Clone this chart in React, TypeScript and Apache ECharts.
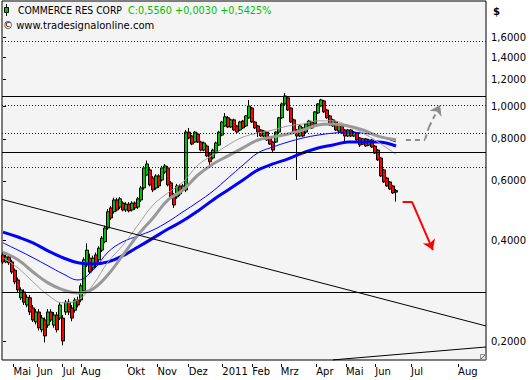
import { useEffect, useRef } from 'react';
import * as echarts from 'echarts';

// Daily bars (bar number on the x axis)
const openP = [
  0.362, 0.345, 0.357, 0.345, 0.326, 0.305, 0.270, 0.281, 0.257, 0.270,
  0.252, 0.229, 0.245, 0.217, 0.232, 0.224, 0.245, 0.224, 0.240, 0.235,
  0.235, 0.245, 0.262, 0.252, 0.248, 0.266, 0.266, 0.283, 0.338, 0.354,
  0.331, 0.362, 0.350, 0.374, 0.396, 0.435, 0.499, 0.486, 0.527, 0.502,
  0.516, 0.492, 0.512, 0.492, 0.516, 0.502, 0.527, 0.572, 0.625, 0.647,
  0.612, 0.572, 0.621, 0.604, 0.638, 0.656, 0.592, 0.545, 0.538, 0.580,
  0.564, 0.564, 0.838, 0.816, 0.783, 0.827, 0.783, 0.741, 0.762, 0.722,
  0.702, 0.727, 0.767, 0.821, 0.874, 0.924, 0.868, 0.911, 0.874, 0.850,
  0.904, 0.874, 0.924, 0.988, 0.898, 0.874, 0.850, 0.816, 0.838, 0.805,
  0.783, 0.783, 0.838, 0.924, 1.016, 1.059, 0.988, 0.911, 0.850, 0.816,
  0.862, 0.838, 0.874, 0.898, 0.886, 0.955, 1.002, 1.037, 0.975, 0.936,
  0.874, 0.898, 0.844, 0.874, 0.850, 0.816, 0.850, 0.816, 0.832, 0.805,
  0.772, 0.800, 0.767, 0.794, 0.762, 0.741, 0.702, 0.647, 0.612, 0.596,
  0.580, 0.562,
];
const closeP = [
  0.345, 0.357, 0.343, 0.322, 0.301, 0.285, 0.285, 0.262, 0.271, 0.245,
  0.232, 0.245, 0.220, 0.235, 0.208, 0.245, 0.232, 0.240, 0.217, 0.257,
  0.201, 0.262, 0.245, 0.235, 0.266, 0.257, 0.293, 0.350, 0.374, 0.322,
  0.354, 0.338, 0.379, 0.406, 0.435, 0.486, 0.466, 0.527, 0.492, 0.531,
  0.492, 0.512, 0.489, 0.516, 0.499, 0.531, 0.572, 0.656, 0.674, 0.584,
  0.564, 0.621, 0.580, 0.656, 0.665, 0.584, 0.538, 0.509, 0.580, 0.549,
  0.580, 0.838, 0.805, 0.772, 0.838, 0.783, 0.741, 0.778, 0.712, 0.684,
  0.741, 0.778, 0.838, 0.898, 0.930, 0.868, 0.911, 0.850, 0.838, 0.898,
  0.862, 0.936, 1.002, 0.898, 0.862, 0.838, 0.816, 0.844, 0.794, 0.772,
  0.741, 0.838, 0.924, 1.016, 1.073, 0.975, 0.898, 0.838, 0.816, 0.874,
  0.816, 0.886, 0.904, 0.862, 0.962, 1.016, 1.044, 0.962, 0.924, 0.880,
  0.911, 0.850, 0.880, 0.832, 0.816, 0.850, 0.816, 0.838, 0.794, 0.767,
  0.800, 0.762, 0.794, 0.757, 0.726, 0.693, 0.621, 0.596, 0.580, 0.568,
  0.553, 0.556,
];
const lowP = [
  0.340, 0.342, 0.338, 0.318, 0.296, 0.280, 0.266, 0.257, 0.253, 0.240,
  0.229, 0.225, 0.216, 0.213, 0.199, 0.220, 0.229, 0.220, 0.213, 0.232,
  0.195, 0.240, 0.240, 0.230, 0.244, 0.253, 0.262, 0.280, 0.333, 0.318,
  0.326, 0.333, 0.345, 0.369, 0.392, 0.430, 0.460, 0.480, 0.487, 0.495,
  0.487, 0.485, 0.484, 0.487, 0.492, 0.496, 0.520, 0.565, 0.620, 0.578,
  0.556, 0.565, 0.572, 0.598, 0.630, 0.578, 0.530, 0.499, 0.531, 0.541,
  0.556, 0.556, 0.798, 0.766, 0.778, 0.778, 0.735, 0.735, 0.706, 0.669,
  0.695, 0.721, 0.762, 0.815, 0.868, 0.862, 0.862, 0.844, 0.832, 0.844,
  0.856, 0.868, 0.918, 0.892, 0.856, 0.810, 0.810, 0.810, 0.788, 0.767,
  0.730, 0.778, 0.832, 0.918, 1.009, 0.968, 0.892, 0.832, 0.604, 0.810,
  0.810, 0.832, 0.868, 0.856, 0.880, 0.948, 0.995, 0.955, 0.918, 0.874,
  0.868, 0.844, 0.838, 0.827, 0.783, 0.810, 0.810, 0.810, 0.788, 0.757,
  0.767, 0.757, 0.762, 0.752, 0.721, 0.688, 0.616, 0.592, 0.576, 0.564,
  0.549, 0.521,
];
const highP = [
  0.368, 0.364, 0.360, 0.350, 0.330, 0.310, 0.290, 0.286, 0.276, 0.275,
  0.257, 0.250, 0.250, 0.240, 0.236, 0.250, 0.250, 0.245, 0.245, 0.262,
  0.240, 0.266, 0.268, 0.257, 0.270, 0.272, 0.298, 0.356, 0.392, 0.365,
  0.360, 0.368, 0.384, 0.412, 0.442, 0.495, 0.505, 0.535, 0.535, 0.538,
  0.522, 0.519, 0.519, 0.522, 0.522, 0.538, 0.580, 0.665, 0.690, 0.655,
  0.620, 0.628, 0.628, 0.665, 0.674, 0.665, 0.600, 0.552, 0.588, 0.588,
  0.588, 0.850, 0.862, 0.822, 0.845, 0.835, 0.790, 0.785, 0.770, 0.730,
  0.748, 0.785, 0.845, 0.905, 0.955, 0.935, 0.918, 0.918, 0.880, 0.905,
  0.911, 0.942, 1.044, 0.995, 0.905, 0.880, 0.856, 0.850, 0.844, 0.810,
  0.790, 0.844, 0.930, 1.025, 1.095, 1.070, 0.995, 0.918, 0.856, 0.880,
  0.868, 0.892, 0.911, 0.905, 0.968, 1.023, 1.052, 1.044, 0.982, 0.942,
  0.918, 0.905, 0.886, 0.880, 0.856, 0.856, 0.856, 0.844, 0.838, 0.810,
  0.805, 0.805, 0.800, 0.800, 0.767, 0.746, 0.707, 0.652, 0.617, 0.600,
  0.584, 0.568,
];

// Moving averages, read every 5 bars
const maIdx = [0, 5, 10, 15, 20, 25, 30, 35, 40, 45, 50, 55, 60, 65, 70, 75, 80, 85, 90, 95, 100, 105, 110, 115, 120, 125, 131];
const maSlowBlue = [0.423, 0.409, 0.393, 0.372, 0.355, 0.343, 0.340, 0.345, 0.360, 0.382, 0.406, 0.432, 0.457, 0.489, 0.527, 0.564, 0.604, 0.647, 0.674, 0.698, 0.727, 0.752, 0.767, 0.783, 0.783, 0.783, 0.762];
const maThinBlue = [0.393, 0.374, 0.355, 0.336, 0.318, 0.305, 0.326, 0.369, 0.396, 0.412, 0.429, 0.454, 0.486, 0.520, 0.560, 0.612, 0.669, 0.727, 0.757, 0.783, 0.805, 0.821, 0.832, 0.838, 0.832, 0.816, 0.783];
const maThickGray = [0.369, 0.350, 0.322, 0.299, 0.285, 0.279, 0.287, 0.316, 0.362, 0.415, 0.466, 0.527, 0.564, 0.625, 0.674, 0.712, 0.752, 0.794, 0.810, 0.827, 0.850, 0.880, 0.886, 0.874, 0.850, 0.815, 0.795];
const maThinGray = [0.355, 0.331, 0.301, 0.275, 0.261, 0.266, 0.295, 0.345, 0.387, 0.444, 0.509, 0.553, 0.596, 0.669, 0.717, 0.767, 0.810, 0.832, 0.850, 0.874, 0.886, 0.905, 0.905, 0.874, 0.832, 0.783, 0.720];

// Axis ticks
const monthTicks = [3.5, 11.4, 19.9, 26.1, 41.5, 51.5, 61.9, 73.1, 83.1, 92.6, 104.4, 114.3, 124.1, 136, 151.7];
const monthLabels = ['Mai', 'Jun', 'Jul', 'Aug', 'Okt', 'Nov', 'Dez', '2011', 'Feb', 'Mrz', 'Apr', 'Mai', 'Jun', 'Jul', 'Aug'];
const priceTicks = [0.2, 0.4, 0.6, 0.8, 1.0, 1.2, 1.4, 1.6];

// Drawn levels and trend lines
const solidLevels = [1.067, 0.733, 0.283];
const dottedLevels = [1.565, 1.009, 0.835, 0.656];
const upperTrendX = [-0.3333, 161];
const upperTrendY = [0.529, 0.2227];
const lowerTrendX = [110, 161];
const lowerTrendY = [0.1766, 0.1929];
const redArrowX = [133.2, 136.3, 143.3];
const redArrowY = [0.5207, 0.5207, 0.374];
const grayArrowX = [134.3, 140.7, 142, 145.7];
const grayArrowY = [0.7977, 0.7977, 0.868, 1.009];

const FONT = '"DejaVu Sans", Verdana, sans-serif';

export default function App() {
  const ref = useRef<HTMLDivElement>(null);
  useEffect(() => {
    const chart = echarts.init(ref.current!, null, { renderer: 'svg' });
    const candles = openP.map((o, i) => [i, o, closeP[i], lowP[i], highP[i]]);
    const ma = (vals: number[]) => maIdx.map((x, i) => [x, vals[i]]);

    const markData: any[] = [];
    solidLevels.forEach((v) =>
      markData.push({ yAxis: v, lineStyle: { color: '#000', width: 1, type: 'solid' } })
    );
    dottedLevels.forEach((v) =>
      markData.push({ yAxis: v, lineStyle: { color: '#0000ff', width: 1, type: [1, 2] } })
    );
    markData.push([
      { coord: [upperTrendX[0], upperTrendY[0]], lineStyle: { color: '#000', width: 1, type: 'solid' } },
      { coord: [upperTrendX[1], upperTrendY[1]] },
    ]);
    markData.push([
      { coord: [lowerTrendX[0], lowerTrendY[0]], lineStyle: { color: '#000', width: 1, type: 'solid' } },
      { coord: [lowerTrendX[1], lowerTrendY[1]] },
    ]);
    for (let k = 0; k < redArrowX.length - 1; k++) {
      const last = k === redArrowX.length - 2;
      markData.push([
        { coord: [redArrowX[k], redArrowY[k]], symbol: 'none', lineStyle: { color: '#ff0000', width: 2, type: 'solid' } },
        { coord: [redArrowX[k + 1], redArrowY[k + 1]], symbol: last ? 'arrow' : 'none', symbolSize: 10 },
      ]);
    }
    for (let k = 0; k < grayArrowX.length - 1; k++) {
      const last = k === grayArrowX.length - 2;
      markData.push([
        { coord: [grayArrowX[k], grayArrowY[k]], symbol: 'none', lineStyle: { color: '#8c8c8c', width: 2, type: [5, 4] } },
        { coord: [grayArrowX[k + 1], grayArrowY[k + 1]], symbol: last ? 'arrow' : 'none', symbolSize: 10 },
      ]);
    }

    const maSeries = (name: string, vals: number[], color: string, width: number) => ({
      name,
      type: 'line',
      data: ma(vals),
      smooth: 0.4,
      showSymbol: false,
      symbol: 'none',
      z: 4,
      lineStyle: { color, width },
      silent: true,
    });

    chart.setOption({
      animation: false,
      backgroundColor: '#ffffff',
      textStyle: { fontFamily: FONT },
      grid: {
        left: 2,
        top: 1,
        right: 45,
        bottom: 20,
        show: true,
        backgroundColor: '#f4f4f4',
        borderColor: '#000',
        borderWidth: 1,
        outerBoundsMode: 'none',
      },
      xAxis: {
        type: 'value',
        min: -0.3333,
        max: 161,
        offset: 4,
        axisLine: { show: false },
        splitLine: { show: false },
        axisTick: { show: true, length: 3, customValues: monthTicks, lineStyle: { color: '#000' } },
        axisLabel: {
          customValues: monthTicks,
          align: 'left',
          margin: 2,
          color: '#000',
          fontFamily: FONT,
          fontSize: 10,
          formatter: (v: number) => {
            const k = monthTicks.findIndex((t) => Math.abs(t - v) < 0.01);
            return k >= 0 ? monthLabels[k] : '';
          },
        },
      },
      yAxis: {
        type: 'log',
        position: 'right',
        min: 0.17648,
        max: 2.053,
        offset: 3,
        axisLine: { show: false },
        splitLine: { show: false },
        axisTick: { show: true, length: 3, customValues: priceTicks, lineStyle: { color: '#000' } },
        axisLabel: {
          customValues: priceTicks,
          margin: 2,
          color: '#000',
          fontFamily: FONT,
          fontSize: 10,
          formatter: (v: number) => v.toFixed(4).replace('.', ','),
        },
      },
      series: [
        {
          name: 'levels',
          type: 'line',
          data: [],
          z: 1,
          silent: true,
          markLine: {
            silent: true,
            symbol: 'none',
            label: { show: false },
            animation: false,
            data: markData,
          },
        },
        {
          name: 'COMMERCE RES CORP',
          type: 'candlestick',
          data: candles,
          encode: { x: 0, y: [1, 2, 3, 4] },
          barWidth: 3,
          z: 2,
          itemStyle: {
            color: '#00c000',
            color0: '#ff0000',
            borderColor: '#000',
            borderColor0: '#000',
            borderWidth: 1,
          },
        },
        maSeries('slowBlue', maSlowBlue, '#0000ff', 3),
        maSeries('thinBlue', maThinBlue, '#0000ff', 1),
        maSeries('thickGray', maThickGray, '#999999', 3),
        maSeries('thinGray', maThinGray, '#a0a0a0', 1),
      ],
      graphic: [
        { type: 'line', shape: { x1: 6.5, y1: 4, x2: 6.5, y2: 16 }, style: { stroke: '#000', lineWidth: 1 } },
        { type: 'rect', shape: { x: 4.5, y: 7.5, width: 4, height: 5 }, style: { fill: '#00c000', stroke: '#000', lineWidth: 1 } },
        { type: 'text', x: 18, y: 10, scaleX: 0.93, style: { text: 'COMMERCE RES CORP', font: '10px ' + FONT, fill: '#000', verticalAlign: 'middle' } },
        { type: 'text', x: 128, y: 10, scaleX: 0.97, style: { text: 'C:0,5560 +0,0030 +0,5425%', font: '10px ' + FONT, fill: '#00c000', verticalAlign: 'middle' } },
        { type: 'text', x: 3, y: 25.5, style: { text: '© www.tradesignalonline.com', font: '10px ' + FONT, fill: '#000', verticalAlign: 'middle' } },
        { type: 'text', x: 493, y: 11, style: { text: '$', font: 'bold 10px ' + FONT, fill: '#000', verticalAlign: 'middle' } },
        { type: 'rect', shape: { x: 480.5, y: 354.5, width: 5, height: 5 }, style: { fill: '#e8e8e8', stroke: '#909090', lineWidth: 1 } },
        { type: 'line', shape: { x1: 481, y1: 359, x2: 485, y2: 355 }, style: { stroke: '#606060', lineWidth: 1 } },
      ],
    });
    return () => chart.dispose();
  }, []);
  return (
    <div
      ref={ref}
      style={{ position: 'fixed', left: 0, top: 0, width: 531, height: 380, background: '#fff' }}
    />
  );
}
